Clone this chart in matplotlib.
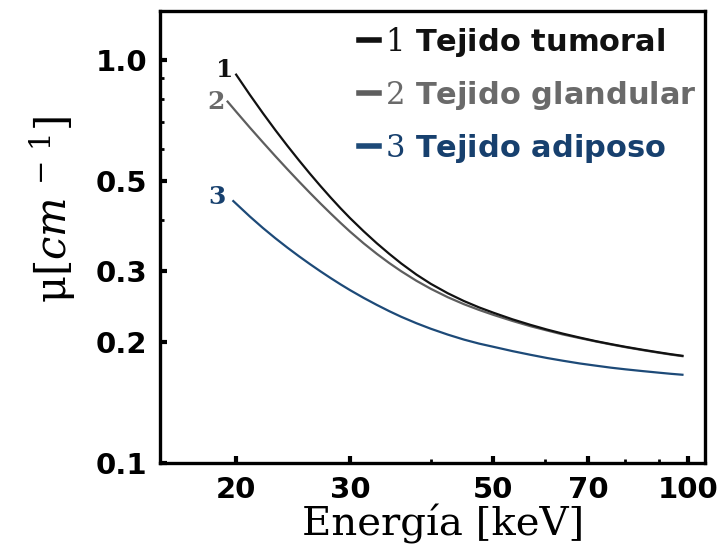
import matplotlib
matplotlib.use("Agg")
import matplotlib.pyplot as plt

# energia [keV] vs coeficiente de atenuacion mu [cm^-1]
energia_tumoral = [20, 21, 22, 23, 24, 25, 26, 27, 28, 29, 30, 31.5, 33, 34.5, 36, 38, 40,
                   42.5, 45, 47.5, 50, 53.5, 57, 60.5, 64, 68, 72, 76, 80, 85, 90, 94, 98]
mu_tumoral = [0.918, 0.8183, 0.7366, 0.6686, 0.6117, 0.5634, 0.5219, 0.4862, 0.4552,
              0.4282, 0.4048, 0.3753, 0.3506, 0.3300, 0.3124, 0.2932, 0.2781, 0.2635,
              0.2521, 0.2431, 0.2358, 0.2271, 0.2201, 0.2142, 0.2093, 0.2046, 0.2005,
              0.1971, 0.1941, 0.1909, 0.1881, 0.1861, 0.1844]

energia_glandular = [19.4, 20, 21, 22, 23, 24, 25, 26, 27, 28, 29, 30, 31.5, 33, 34.5, 36,
                     38, 40, 42.5, 45, 47.5, 50, 53.5, 57, 60.5, 64, 68, 72, 76, 80, 85, 90,
                     94, 98]
mu_glandular = [0.787, 0.7430, 0.6785, 0.6237, 0.5762, 0.5351, 0.4992, 0.4677, 0.4400,
                0.4156, 0.3939, 0.3747, 0.3503, 0.3301, 0.3131, 0.2988, 0.2830, 0.2703,
                0.2576, 0.2476, 0.2396, 0.2329, 0.2250, 0.2184, 0.2131, 0.2083, 0.2040,
                0.2001, 0.1967, 0.1937, 0.1905, 0.1877, 0.1857, 0.1840]

energia_adiposo = [19.8, 21, 22, 23, 24, 25, 26, 27, 28, 29, 30, 31.5, 33, 34.5, 36, 38, 40,
                   42.5, 45, 47.5, 50, 53.5, 57, 60.5, 64, 68, 72, 76, 80, 85, 90, 94, 98]
mu_adiposo = [0.446, 0.4084, 0.3825, 0.3607, 0.3420, 0.3257, 0.3114, 0.2987, 0.2874,
              0.2773, 0.2683, 0.2566, 0.2466, 0.2379, 0.2304, 0.2221, 0.2152, 0.2081,
              0.2023, 0.1977, 0.1941, 0.1894, 0.1855, 0.1821, 0.1793, 0.1765, 0.1743,
              0.1723, 0.1707, 0.1690, 0.1675, 0.1664, 0.1655]

nombres = ["Tejido tumoral", "Tejido glandular", "Tejido adiposo"]
numeros = ["1", "2", "3"]

xticks = [20, 30, 50, 70, 100]
xminor = [40, 60, 80, 90]
yticks = [0.1, 0.2, 0.3, 0.5, 1.0]
ylabels = ["0.1", "0.2", "0.3", "0.5", "1.0"]
yminor = [0.4, 0.6, 0.7, 0.8, 0.9]

plt.rcParams['mathtext.fontset'] = 'dejavuserif'

colores = ["#111111", "#5e5e5e", "#1d4a78"]
colores_texto = ["#111111", "#6a6a6a", "#17406e"]

fig = plt.figure(figsize=(7.24, 5.57), dpi=100)
ax = fig.add_axes([160/724, 1 - 463/557, 545/724, 452/557])

series = [(energia_tumoral, mu_tumoral), (energia_glandular, mu_glandular),
          (energia_adiposo, mu_adiposo)]

# glandular first so the tumoral line sits on top where they merge
lineas = {}
for k in [1, 0, 2]:
    e, mu = series[k]
    ln, = ax.plot(e, mu, color=colores[k], lw=1.6, zorder=3 + (k == 0),
                  solid_joinstyle='round')
    lineas[k] = ln

# curve numbers next to the start of each line
offsets = [(-8, 3), (-8, 0), (-12, 3)]
for k in range(3):
    e, mu = series[k]
    ax.annotate(numeros[k], xy=(e[0], mu[0]), xytext=offsets[k], textcoords='offset points',
                ha='center', va='center', fontsize=18, fontweight='bold',
                family='DejaVu Serif', color=colores_texto[k])

ax.set_xscale('log')
ax.set_yscale('log')
ax.set_xlim(15.25, 106.2)
ax.set_ylim(0.1, 1.32)

ax.set_xticks(xticks)
ax.set_xticklabels([str(t) for t in xticks])
ax.set_xticks(xminor, minor=True)
ax.set_xticklabels([], minor=True)
ax.set_yticks(yticks)
ax.set_yticklabels(ylabels)
ax.set_yticks(yminor, minor=True)
ax.set_yticklabels([], minor=True)

ax.tick_params(which='major', direction='in', length=5, width=3, pad=9,
               labelsize=21)
ax.tick_params(which='minor', direction='in', length=3, width=2)
for lab in ax.get_xticklabels() + ax.get_yticklabels():
    lab.set_fontweight('bold')

for s in ax.spines.values():
    s.set_linewidth(2.4)

ax.set_xlabel("Energía [keV]", family='DejaVu Serif', fontsize=29, labelpad=0)
ax.xaxis.label.set_x(0.52)
ax.set_ylabel(r"μ$[cm^{\,-\,1}]$", family='DejaVu Serif', fontsize=30)
ax.yaxis.set_label_coords(-0.15, 0.56)

handles = [lineas[k] for k in range(3)]
etiquetas = ["$%s$ %s" % (numeros[k], nombres[k]) for k in range(3)]
leg = ax.legend(handles, etiquetas, loc='upper left', bbox_to_anchor=(0.365, 0.97),
                frameon=False, handlelength=0.65, handletextpad=0.2, labelspacing=0.66,
                borderpad=0, borderaxespad=0,
                prop={'family': 'DejaVu Sans', 'weight': 'bold', 'size': 22})
for k, t in enumerate(leg.get_texts()):
    t.set_color(colores_texto[k])
for k, h in enumerate(leg.legend_handles):
    h.set_linewidth(4)

fig.savefig("out.png", dpi=100)
